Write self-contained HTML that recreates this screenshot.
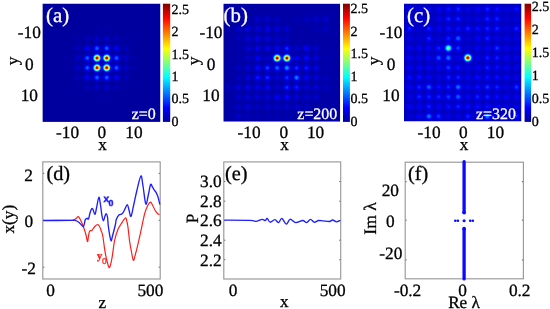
<!DOCTYPE html>
<html><head><meta charset="utf-8"><title>figure</title>
<style>html,body{margin:0;padding:0;background:#fff;overflow:hidden}svg{display:block}text{font-family:"Liberation Serif",serif}</style></head>
<body>
<svg width="550" height="309" viewBox="0 0 550 309" font-family='"Liberation Serif", serif'>
<defs><radialGradient id="gs" cx="0.5" cy="0.5" r="0.5">
<stop offset="0" stop-color="#fff" stop-opacity="1.0000"/>
<stop offset="0.06" stop-color="#fff" stop-opacity="0.9802"/>
<stop offset="0.12" stop-color="#fff" stop-opacity="0.9231"/>
<stop offset="0.19" stop-color="#fff" stop-opacity="0.8353"/>
<stop offset="0.25" stop-color="#fff" stop-opacity="0.7261"/>
<stop offset="0.31" stop-color="#fff" stop-opacity="0.6065"/>
<stop offset="0.38" stop-color="#fff" stop-opacity="0.4868"/>
<stop offset="0.44" stop-color="#fff" stop-opacity="0.3753"/>
<stop offset="0.5" stop-color="#fff" stop-opacity="0.2780"/>
<stop offset="0.56" stop-color="#fff" stop-opacity="0.1979"/>
<stop offset="0.62" stop-color="#fff" stop-opacity="0.1353"/>
<stop offset="0.69" stop-color="#fff" stop-opacity="0.0889"/>
<stop offset="0.75" stop-color="#fff" stop-opacity="0.0561"/>
<stop offset="0.81" stop-color="#fff" stop-opacity="0.0340"/>
<stop offset="0.88" stop-color="#fff" stop-opacity="0.0198"/>
<stop offset="0.94" stop-color="#fff" stop-opacity="0.0111"/>
<stop offset="1" stop-color="#fff" stop-opacity="0.0000"/>
</radialGradient>
<filter id="jet" x="0" y="0" width="1" height="1" color-interpolation-filters="sRGB"><feComponentTransfer><feFuncR type="table" tableValues="0.000 0.000 0.000 0.000 0.000 0.000 0.000 0.000 0.000 0.000 0.000 0.000 0.000 0.000 0.000 0.000 0.000 0.000 0.000 0.000 0.000 0.000 0.000 0.000 0.000 0.062 0.125 0.188 0.250 0.312 0.375 0.438 0.500 0.562 0.625 0.688 0.750 0.812 0.875 0.938 1.000 1.000 1.000 1.000 1.000 1.000 1.000 1.000 1.000 1.000 1.000 1.000 1.000 1.000 1.000 1.000 1.000 0.938 0.875 0.812 0.750 0.688 0.625 0.562 0.500"/><feFuncG type="table" tableValues="0.000 0.000 0.000 0.000 0.000 0.000 0.000 0.000 0.000 0.062 0.125 0.188 0.250 0.312 0.375 0.438 0.500 0.562 0.625 0.688 0.750 0.812 0.875 0.938 1.000 1.000 1.000 1.000 1.000 1.000 1.000 1.000 1.000 1.000 1.000 1.000 1.000 1.000 1.000 1.000 1.000 0.938 0.875 0.812 0.750 0.688 0.625 0.562 0.500 0.438 0.375 0.312 0.250 0.188 0.125 0.062 0.000 0.000 0.000 0.000 0.000 0.000 0.000 0.000 0.000"/><feFuncB type="table" tableValues="0.620 0.667 0.715 0.762 0.810 0.857 0.905 0.953 1.000 1.000 1.000 1.000 1.000 1.000 1.000 1.000 1.000 1.000 1.000 1.000 1.000 1.000 1.000 1.000 1.000 0.938 0.875 0.812 0.750 0.688 0.625 0.562 0.500 0.438 0.375 0.312 0.250 0.188 0.125 0.062 0.000 0.000 0.000 0.000 0.000 0.000 0.000 0.000 0.000 0.000 0.000 0.000 0.000 0.000 0.000 0.000 0.000 0.000 0.000 0.000 0.000 0.000 0.000 0.000 0.000"/></feComponentTransfer></filter>
<linearGradient id="cb" x1="0" y1="0" x2="0" y2="1">
<stop offset="0" stop-color="rgb(128,0,0)"/>
<stop offset="0.12" stop-color="rgb(255,0,0)"/>
<stop offset="0.38" stop-color="rgb(255,255,0)"/>
<stop offset="0.62" stop-color="rgb(0,255,255)"/>
<stop offset="0.88" stop-color="rgb(0,0,255)"/>
<stop offset="1" stop-color="rgb(0,0,158)"/>
</linearGradient></defs>
<rect width="550" height="309" fill="#fff"/>
<clipPath id="clipa"><rect x="42.4" y="3.5" width="118.1" height="118.4"/></clipPath>
<g filter="url(#jet)" clip-path="url(#clipa)">
<rect x="42.4" y="3.5" width="118.1" height="118.4" fill="rgb(0,0,0)"/>
<circle cx="96.98" cy="28.81" r="6.78" fill="url(#gs)" opacity="0.011"/>
<circle cx="106.72" cy="28.81" r="6.78" fill="url(#gs)" opacity="0.011"/>
<circle cx="77.5" cy="38.55" r="6.78" fill="url(#gs)" opacity="0.011"/>
<circle cx="87.24" cy="38.55" r="6.78" fill="url(#gs)" opacity="0.038"/>
<circle cx="96.98" cy="38.55" r="6.78" fill="url(#gs)" opacity="0.065"/>
<circle cx="106.72" cy="38.55" r="6.78" fill="url(#gs)" opacity="0.065"/>
<circle cx="116.46" cy="38.55" r="6.78" fill="url(#gs)" opacity="0.038"/>
<circle cx="126.2" cy="38.55" r="6.78" fill="url(#gs)" opacity="0.011"/>
<circle cx="77.5" cy="48.29" r="6.78" fill="url(#gs)" opacity="0.038"/>
<circle cx="87.24" cy="48.29" r="6.78" fill="url(#gs)" opacity="0.125"/>
<circle cx="96.98" cy="48.29" r="6.78" fill="url(#gs)" opacity="0.236"/>
<circle cx="106.72" cy="48.29" r="6.78" fill="url(#gs)" opacity="0.236"/>
<circle cx="116.46" cy="48.29" r="6.78" fill="url(#gs)" opacity="0.125"/>
<circle cx="126.2" cy="48.29" r="6.78" fill="url(#gs)" opacity="0.038"/>
<circle cx="67.76" cy="58.03" r="6.78" fill="url(#gs)" opacity="0.011"/>
<circle cx="77.5" cy="58.03" r="6.78" fill="url(#gs)" opacity="0.065"/>
<circle cx="87.24" cy="58.03" r="6.78" fill="url(#gs)" opacity="0.236"/>
<circle cx="96.98" cy="58.03" r="6.78" fill="url(#gs)" opacity="0.970"/>
<circle cx="106.72" cy="58.03" r="6.78" fill="url(#gs)" opacity="0.970"/>
<circle cx="116.46" cy="58.03" r="6.78" fill="url(#gs)" opacity="0.236"/>
<circle cx="126.2" cy="58.03" r="6.78" fill="url(#gs)" opacity="0.065"/>
<circle cx="135.94" cy="58.03" r="6.78" fill="url(#gs)" opacity="0.011"/>
<circle cx="67.76" cy="67.77" r="6.78" fill="url(#gs)" opacity="0.011"/>
<circle cx="77.5" cy="67.77" r="6.78" fill="url(#gs)" opacity="0.065"/>
<circle cx="87.24" cy="67.77" r="6.78" fill="url(#gs)" opacity="0.236"/>
<circle cx="96.98" cy="67.77" r="6.78" fill="url(#gs)" opacity="0.970"/>
<circle cx="106.72" cy="67.77" r="6.78" fill="url(#gs)" opacity="0.970"/>
<circle cx="116.46" cy="67.77" r="6.78" fill="url(#gs)" opacity="0.236"/>
<circle cx="126.2" cy="67.77" r="6.78" fill="url(#gs)" opacity="0.065"/>
<circle cx="135.94" cy="67.77" r="6.78" fill="url(#gs)" opacity="0.011"/>
<circle cx="77.5" cy="77.51" r="6.78" fill="url(#gs)" opacity="0.038"/>
<circle cx="87.24" cy="77.51" r="6.78" fill="url(#gs)" opacity="0.125"/>
<circle cx="96.98" cy="77.51" r="6.78" fill="url(#gs)" opacity="0.236"/>
<circle cx="106.72" cy="77.51" r="6.78" fill="url(#gs)" opacity="0.236"/>
<circle cx="116.46" cy="77.51" r="6.78" fill="url(#gs)" opacity="0.125"/>
<circle cx="126.2" cy="77.51" r="6.78" fill="url(#gs)" opacity="0.038"/>
<circle cx="77.5" cy="87.25" r="6.78" fill="url(#gs)" opacity="0.011"/>
<circle cx="87.24" cy="87.25" r="6.78" fill="url(#gs)" opacity="0.038"/>
<circle cx="96.98" cy="87.25" r="6.78" fill="url(#gs)" opacity="0.065"/>
<circle cx="106.72" cy="87.25" r="6.78" fill="url(#gs)" opacity="0.065"/>
<circle cx="116.46" cy="87.25" r="6.78" fill="url(#gs)" opacity="0.038"/>
<circle cx="126.2" cy="87.25" r="6.78" fill="url(#gs)" opacity="0.011"/>
<circle cx="96.98" cy="96.99" r="6.78" fill="url(#gs)" opacity="0.011"/>
<circle cx="106.72" cy="96.99" r="6.78" fill="url(#gs)" opacity="0.011"/>
</g>
<rect x="162.9" y="3.7" width="7.3" height="118.2" fill="url(#cb)"/>
<clipPath id="clipb"><rect x="223.3" y="3.6" width="116.9" height="118.1"/></clipPath>
<g filter="url(#jet)" clip-path="url(#clipb)">
<rect x="223.3" y="3.6" width="116.9" height="118.1" fill="rgb(3,3,3)"/>
<circle cx="247.91" cy="19.17" r="6.78" fill="url(#gs)" opacity="0.019"/>
<circle cx="257.65" cy="19.17" r="6.78" fill="url(#gs)" opacity="0.057"/>
<circle cx="267.39" cy="19.17" r="6.78" fill="url(#gs)" opacity="0.057"/>
<circle cx="277.13" cy="19.17" r="6.78" fill="url(#gs)" opacity="0.038"/>
<circle cx="296.61" cy="19.17" r="6.78" fill="url(#gs)" opacity="0.019"/>
<circle cx="306.35" cy="19.17" r="6.78" fill="url(#gs)" opacity="0.038"/>
<circle cx="316.09" cy="19.17" r="6.78" fill="url(#gs)" opacity="0.057"/>
<circle cx="325.83" cy="19.17" r="6.78" fill="url(#gs)" opacity="0.057"/>
<circle cx="238.17" cy="28.91" r="6.78" fill="url(#gs)" opacity="0.057"/>
<circle cx="247.91" cy="28.91" r="6.78" fill="url(#gs)" opacity="0.095"/>
<circle cx="257.65" cy="28.91" r="6.78" fill="url(#gs)" opacity="0.076"/>
<circle cx="267.39" cy="28.91" r="6.78" fill="url(#gs)" opacity="0.095"/>
<circle cx="277.13" cy="28.91" r="6.78" fill="url(#gs)" opacity="0.076"/>
<circle cx="286.87" cy="28.91" r="6.78" fill="url(#gs)" opacity="0.057"/>
<circle cx="316.09" cy="28.91" r="6.78" fill="url(#gs)" opacity="0.019"/>
<circle cx="325.83" cy="28.91" r="6.78" fill="url(#gs)" opacity="0.038"/>
<circle cx="238.17" cy="38.65" r="6.78" fill="url(#gs)" opacity="0.038"/>
<circle cx="247.91" cy="38.65" r="6.78" fill="url(#gs)" opacity="0.076"/>
<circle cx="257.65" cy="38.65" r="6.78" fill="url(#gs)" opacity="0.095"/>
<circle cx="267.39" cy="38.65" r="6.78" fill="url(#gs)" opacity="0.076"/>
<circle cx="277.13" cy="38.65" r="6.78" fill="url(#gs)" opacity="0.057"/>
<circle cx="286.87" cy="38.65" r="6.78" fill="url(#gs)" opacity="0.038"/>
<circle cx="238.17" cy="48.39" r="6.78" fill="url(#gs)" opacity="0.019"/>
<circle cx="247.91" cy="48.39" r="6.78" fill="url(#gs)" opacity="0.076"/>
<circle cx="257.65" cy="48.39" r="6.78" fill="url(#gs)" opacity="0.095"/>
<circle cx="267.39" cy="48.39" r="6.78" fill="url(#gs)" opacity="0.095"/>
<circle cx="277.13" cy="48.39" r="6.78" fill="url(#gs)" opacity="0.114"/>
<circle cx="286.87" cy="48.39" r="6.78" fill="url(#gs)" opacity="0.171"/>
<circle cx="296.61" cy="48.39" r="6.78" fill="url(#gs)" opacity="0.057"/>
<circle cx="306.35" cy="48.39" r="6.78" fill="url(#gs)" opacity="0.114"/>
<circle cx="316.09" cy="48.39" r="6.78" fill="url(#gs)" opacity="0.057"/>
<circle cx="238.17" cy="58.13" r="6.78" fill="url(#gs)" opacity="0.019"/>
<circle cx="247.91" cy="58.13" r="6.78" fill="url(#gs)" opacity="0.057"/>
<circle cx="257.65" cy="58.13" r="6.78" fill="url(#gs)" opacity="0.114"/>
<circle cx="267.39" cy="58.13" r="6.78" fill="url(#gs)" opacity="0.057"/>
<circle cx="277.13" cy="58.13" r="6.78" fill="url(#gs)" opacity="0.970"/>
<circle cx="286.87" cy="58.13" r="6.78" fill="url(#gs)" opacity="0.970"/>
<circle cx="296.61" cy="58.13" r="6.78" fill="url(#gs)" opacity="0.114"/>
<circle cx="306.35" cy="58.13" r="6.78" fill="url(#gs)" opacity="0.133"/>
<circle cx="316.09" cy="58.13" r="6.78" fill="url(#gs)" opacity="0.076"/>
<circle cx="325.83" cy="58.13" r="6.78" fill="url(#gs)" opacity="0.019"/>
<circle cx="238.17" cy="67.87" r="6.78" fill="url(#gs)" opacity="0.038"/>
<circle cx="247.91" cy="67.87" r="6.78" fill="url(#gs)" opacity="0.076"/>
<circle cx="257.65" cy="67.87" r="6.78" fill="url(#gs)" opacity="0.133"/>
<circle cx="267.39" cy="67.87" r="6.78" fill="url(#gs)" opacity="0.190"/>
<circle cx="277.13" cy="67.87" r="6.78" fill="url(#gs)" opacity="0.228"/>
<circle cx="286.87" cy="67.87" r="6.78" fill="url(#gs)" opacity="0.281"/>
<circle cx="296.61" cy="67.87" r="6.78" fill="url(#gs)" opacity="0.171"/>
<circle cx="306.35" cy="67.87" r="6.78" fill="url(#gs)" opacity="0.152"/>
<circle cx="316.09" cy="67.87" r="6.78" fill="url(#gs)" opacity="0.095"/>
<circle cx="325.83" cy="67.87" r="6.78" fill="url(#gs)" opacity="0.019"/>
<circle cx="238.17" cy="77.61" r="6.78" fill="url(#gs)" opacity="0.038"/>
<circle cx="247.91" cy="77.61" r="6.78" fill="url(#gs)" opacity="0.076"/>
<circle cx="257.65" cy="77.61" r="6.78" fill="url(#gs)" opacity="0.152"/>
<circle cx="267.39" cy="77.61" r="6.78" fill="url(#gs)" opacity="0.171"/>
<circle cx="277.13" cy="77.61" r="6.78" fill="url(#gs)" opacity="0.076"/>
<circle cx="286.87" cy="77.61" r="6.78" fill="url(#gs)" opacity="0.171"/>
<circle cx="296.61" cy="77.61" r="6.78" fill="url(#gs)" opacity="0.259"/>
<circle cx="306.35" cy="77.61" r="6.78" fill="url(#gs)" opacity="0.114"/>
<circle cx="316.09" cy="77.61" r="6.78" fill="url(#gs)" opacity="0.076"/>
<circle cx="325.83" cy="77.61" r="6.78" fill="url(#gs)" opacity="0.038"/>
<circle cx="228.43" cy="87.35" r="6.78" fill="url(#gs)" opacity="0.038"/>
<circle cx="238.17" cy="87.35" r="6.78" fill="url(#gs)" opacity="0.076"/>
<circle cx="247.91" cy="87.35" r="6.78" fill="url(#gs)" opacity="0.095"/>
<circle cx="257.65" cy="87.35" r="6.78" fill="url(#gs)" opacity="0.095"/>
<circle cx="267.39" cy="87.35" r="6.78" fill="url(#gs)" opacity="0.114"/>
<circle cx="277.13" cy="87.35" r="6.78" fill="url(#gs)" opacity="0.057"/>
<circle cx="286.87" cy="87.35" r="6.78" fill="url(#gs)" opacity="0.171"/>
<circle cx="296.61" cy="87.35" r="6.78" fill="url(#gs)" opacity="0.152"/>
<circle cx="306.35" cy="87.35" r="6.78" fill="url(#gs)" opacity="0.076"/>
<circle cx="316.09" cy="87.35" r="6.78" fill="url(#gs)" opacity="0.076"/>
<circle cx="325.83" cy="87.35" r="6.78" fill="url(#gs)" opacity="0.038"/>
<circle cx="238.17" cy="97.09" r="6.78" fill="url(#gs)" opacity="0.057"/>
<circle cx="247.91" cy="97.09" r="6.78" fill="url(#gs)" opacity="0.076"/>
<circle cx="257.65" cy="97.09" r="6.78" fill="url(#gs)" opacity="0.076"/>
<circle cx="267.39" cy="97.09" r="6.78" fill="url(#gs)" opacity="0.076"/>
<circle cx="277.13" cy="97.09" r="6.78" fill="url(#gs)" opacity="0.114"/>
<circle cx="286.87" cy="97.09" r="6.78" fill="url(#gs)" opacity="0.133"/>
<circle cx="296.61" cy="97.09" r="6.78" fill="url(#gs)" opacity="0.076"/>
<circle cx="306.35" cy="97.09" r="6.78" fill="url(#gs)" opacity="0.057"/>
<circle cx="316.09" cy="97.09" r="6.78" fill="url(#gs)" opacity="0.057"/>
<circle cx="238.17" cy="106.83" r="6.78" fill="url(#gs)" opacity="0.057"/>
<circle cx="247.91" cy="106.83" r="6.78" fill="url(#gs)" opacity="0.076"/>
<circle cx="257.65" cy="106.83" r="6.78" fill="url(#gs)" opacity="0.038"/>
<circle cx="267.39" cy="106.83" r="6.78" fill="url(#gs)" opacity="0.057"/>
<circle cx="277.13" cy="106.83" r="6.78" fill="url(#gs)" opacity="0.057"/>
<circle cx="286.87" cy="106.83" r="6.78" fill="url(#gs)" opacity="0.057"/>
<circle cx="296.61" cy="106.83" r="6.78" fill="url(#gs)" opacity="0.057"/>
<circle cx="306.35" cy="106.83" r="6.78" fill="url(#gs)" opacity="0.038"/>
<circle cx="238.17" cy="116.57" r="6.78" fill="url(#gs)" opacity="0.057"/>
<circle cx="247.91" cy="116.57" r="6.78" fill="url(#gs)" opacity="0.038"/>
<circle cx="257.65" cy="116.57" r="6.78" fill="url(#gs)" opacity="0.019"/>
<circle cx="267.39" cy="116.57" r="6.78" fill="url(#gs)" opacity="0.019"/>
<circle cx="277.13" cy="116.57" r="6.78" fill="url(#gs)" opacity="0.019"/>
<circle cx="286.87" cy="116.57" r="6.78" fill="url(#gs)" opacity="0.019"/>
</g>
<rect x="343" y="3.7" width="6.9" height="118.2" fill="url(#cb)"/>
<clipPath id="clipc"><rect x="404" y="3.5" width="117.5" height="118"/></clipPath>
<g filter="url(#jet)" clip-path="url(#clipc)">
<rect x="404" y="3.5" width="117.5" height="118" fill="rgb(11,11,11)"/>
<circle cx="409.38" cy="9.13" r="6.78" fill="url(#gs)" opacity="0.087"/>
<circle cx="419.12" cy="9.13" r="6.78" fill="url(#gs)" opacity="0.044"/>
<circle cx="428.86" cy="9.13" r="6.78" fill="url(#gs)" opacity="0.066"/>
<circle cx="438.6" cy="9.13" r="6.78" fill="url(#gs)" opacity="0.087"/>
<circle cx="448.34" cy="9.13" r="6.78" fill="url(#gs)" opacity="0.109"/>
<circle cx="458.08" cy="9.13" r="6.78" fill="url(#gs)" opacity="0.131"/>
<circle cx="467.82" cy="9.13" r="6.78" fill="url(#gs)" opacity="0.066"/>
<circle cx="477.56" cy="9.13" r="6.78" fill="url(#gs)" opacity="0.087"/>
<circle cx="487.3" cy="9.13" r="6.78" fill="url(#gs)" opacity="0.131"/>
<circle cx="497.04" cy="9.13" r="6.78" fill="url(#gs)" opacity="0.109"/>
<circle cx="506.78" cy="9.13" r="6.78" fill="url(#gs)" opacity="0.066"/>
<circle cx="516.52" cy="9.13" r="6.78" fill="url(#gs)" opacity="0.109"/>
<circle cx="409.38" cy="18.87" r="6.78" fill="url(#gs)" opacity="0.066"/>
<circle cx="419.12" cy="18.87" r="6.78" fill="url(#gs)" opacity="0.044"/>
<circle cx="428.86" cy="18.87" r="6.78" fill="url(#gs)" opacity="0.044"/>
<circle cx="438.6" cy="18.87" r="6.78" fill="url(#gs)" opacity="0.066"/>
<circle cx="448.34" cy="18.87" r="6.78" fill="url(#gs)" opacity="0.131"/>
<circle cx="458.08" cy="18.87" r="6.78" fill="url(#gs)" opacity="0.131"/>
<circle cx="467.82" cy="18.87" r="6.78" fill="url(#gs)" opacity="0.044"/>
<circle cx="477.56" cy="18.87" r="6.78" fill="url(#gs)" opacity="0.066"/>
<circle cx="487.3" cy="18.87" r="6.78" fill="url(#gs)" opacity="0.131"/>
<circle cx="497.04" cy="18.87" r="6.78" fill="url(#gs)" opacity="0.131"/>
<circle cx="506.78" cy="18.87" r="6.78" fill="url(#gs)" opacity="0.044"/>
<circle cx="516.52" cy="18.87" r="6.78" fill="url(#gs)" opacity="0.044"/>
<circle cx="409.38" cy="28.61" r="6.78" fill="url(#gs)" opacity="0.131"/>
<circle cx="419.12" cy="28.61" r="6.78" fill="url(#gs)" opacity="0.044"/>
<circle cx="428.86" cy="28.61" r="6.78" fill="url(#gs)" opacity="0.131"/>
<circle cx="438.6" cy="28.61" r="6.78" fill="url(#gs)" opacity="0.087"/>
<circle cx="448.34" cy="28.61" r="6.78" fill="url(#gs)" opacity="0.109"/>
<circle cx="458.08" cy="28.61" r="6.78" fill="url(#gs)" opacity="0.109"/>
<circle cx="467.82" cy="28.61" r="6.78" fill="url(#gs)" opacity="0.131"/>
<circle cx="477.56" cy="28.61" r="6.78" fill="url(#gs)" opacity="0.109"/>
<circle cx="487.3" cy="28.61" r="6.78" fill="url(#gs)" opacity="0.131"/>
<circle cx="497.04" cy="28.61" r="6.78" fill="url(#gs)" opacity="0.131"/>
<circle cx="506.78" cy="28.61" r="6.78" fill="url(#gs)" opacity="0.066"/>
<circle cx="516.52" cy="28.61" r="6.78" fill="url(#gs)" opacity="0.131"/>
<circle cx="409.38" cy="38.35" r="6.78" fill="url(#gs)" opacity="0.066"/>
<circle cx="419.12" cy="38.35" r="6.78" fill="url(#gs)" opacity="0.044"/>
<circle cx="428.86" cy="38.35" r="6.78" fill="url(#gs)" opacity="0.131"/>
<circle cx="438.6" cy="38.35" r="6.78" fill="url(#gs)" opacity="0.044"/>
<circle cx="448.34" cy="38.35" r="6.78" fill="url(#gs)" opacity="0.131"/>
<circle cx="458.08" cy="38.35" r="6.78" fill="url(#gs)" opacity="0.197"/>
<circle cx="467.82" cy="38.35" r="6.78" fill="url(#gs)" opacity="0.044"/>
<circle cx="477.56" cy="38.35" r="6.78" fill="url(#gs)" opacity="0.087"/>
<circle cx="487.3" cy="38.35" r="6.78" fill="url(#gs)" opacity="0.131"/>
<circle cx="497.04" cy="38.35" r="6.78" fill="url(#gs)" opacity="0.066"/>
<circle cx="506.78" cy="38.35" r="6.78" fill="url(#gs)" opacity="0.066"/>
<circle cx="516.52" cy="38.35" r="6.78" fill="url(#gs)" opacity="0.066"/>
<circle cx="409.38" cy="48.09" r="6.78" fill="url(#gs)" opacity="0.087"/>
<circle cx="419.12" cy="48.09" r="6.78" fill="url(#gs)" opacity="0.087"/>
<circle cx="428.86" cy="48.09" r="6.78" fill="url(#gs)" opacity="0.087"/>
<circle cx="438.6" cy="48.09" r="6.78" fill="url(#gs)" opacity="0.131"/>
<circle cx="448.34" cy="48.09" r="6.78" fill="url(#gs)" opacity="0.487"/>
<circle cx="458.08" cy="48.09" r="6.78" fill="url(#gs)" opacity="0.153"/>
<circle cx="467.82" cy="48.09" r="6.78" fill="url(#gs)" opacity="0.044"/>
<circle cx="477.56" cy="48.09" r="6.78" fill="url(#gs)" opacity="0.087"/>
<circle cx="487.3" cy="48.09" r="6.78" fill="url(#gs)" opacity="0.087"/>
<circle cx="497.04" cy="48.09" r="6.78" fill="url(#gs)" opacity="0.153"/>
<circle cx="506.78" cy="48.09" r="6.78" fill="url(#gs)" opacity="0.087"/>
<circle cx="516.52" cy="48.09" r="6.78" fill="url(#gs)" opacity="0.066"/>
<circle cx="409.38" cy="57.83" r="6.78" fill="url(#gs)" opacity="0.087"/>
<circle cx="419.12" cy="57.83" r="6.78" fill="url(#gs)" opacity="0.066"/>
<circle cx="428.86" cy="57.83" r="6.78" fill="url(#gs)" opacity="0.087"/>
<circle cx="438.6" cy="57.83" r="6.78" fill="url(#gs)" opacity="0.184"/>
<circle cx="448.34" cy="57.83" r="6.78" fill="url(#gs)" opacity="0.219"/>
<circle cx="458.08" cy="57.83" r="6.78" fill="url(#gs)" opacity="0.066"/>
<circle cx="467.82" cy="57.83" r="6.78" fill="url(#gs)" opacity="0.970"/>
<circle cx="477.56" cy="57.83" r="6.78" fill="url(#gs)" opacity="0.066"/>
<circle cx="487.3" cy="57.83" r="6.78" fill="url(#gs)" opacity="0.131"/>
<circle cx="497.04" cy="57.83" r="6.78" fill="url(#gs)" opacity="0.131"/>
<circle cx="506.78" cy="57.83" r="6.78" fill="url(#gs)" opacity="0.087"/>
<circle cx="516.52" cy="57.83" r="6.78" fill="url(#gs)" opacity="0.066"/>
<circle cx="409.38" cy="67.57" r="6.78" fill="url(#gs)" opacity="0.087"/>
<circle cx="419.12" cy="67.57" r="6.78" fill="url(#gs)" opacity="0.087"/>
<circle cx="428.86" cy="67.57" r="6.78" fill="url(#gs)" opacity="0.087"/>
<circle cx="438.6" cy="67.57" r="6.78" fill="url(#gs)" opacity="0.087"/>
<circle cx="448.34" cy="67.57" r="6.78" fill="url(#gs)" opacity="0.157"/>
<circle cx="458.08" cy="67.57" r="6.78" fill="url(#gs)" opacity="0.109"/>
<circle cx="467.82" cy="67.57" r="6.78" fill="url(#gs)" opacity="0.066"/>
<circle cx="477.56" cy="67.57" r="6.78" fill="url(#gs)" opacity="0.087"/>
<circle cx="487.3" cy="67.57" r="6.78" fill="url(#gs)" opacity="0.131"/>
<circle cx="497.04" cy="67.57" r="6.78" fill="url(#gs)" opacity="0.109"/>
<circle cx="506.78" cy="67.57" r="6.78" fill="url(#gs)" opacity="0.087"/>
<circle cx="516.52" cy="67.57" r="6.78" fill="url(#gs)" opacity="0.066"/>
<circle cx="409.38" cy="77.31" r="6.78" fill="url(#gs)" opacity="0.109"/>
<circle cx="419.12" cy="77.31" r="6.78" fill="url(#gs)" opacity="0.109"/>
<circle cx="428.86" cy="77.31" r="6.78" fill="url(#gs)" opacity="0.087"/>
<circle cx="438.6" cy="77.31" r="6.78" fill="url(#gs)" opacity="0.066"/>
<circle cx="448.34" cy="77.31" r="6.78" fill="url(#gs)" opacity="0.131"/>
<circle cx="458.08" cy="77.31" r="6.78" fill="url(#gs)" opacity="0.131"/>
<circle cx="467.82" cy="77.31" r="6.78" fill="url(#gs)" opacity="0.087"/>
<circle cx="477.56" cy="77.31" r="6.78" fill="url(#gs)" opacity="0.109"/>
<circle cx="487.3" cy="77.31" r="6.78" fill="url(#gs)" opacity="0.109"/>
<circle cx="497.04" cy="77.31" r="6.78" fill="url(#gs)" opacity="0.109"/>
<circle cx="506.78" cy="77.31" r="6.78" fill="url(#gs)" opacity="0.087"/>
<circle cx="516.52" cy="77.31" r="6.78" fill="url(#gs)" opacity="0.066"/>
<circle cx="409.38" cy="87.05" r="6.78" fill="url(#gs)" opacity="0.087"/>
<circle cx="419.12" cy="87.05" r="6.78" fill="url(#gs)" opacity="0.131"/>
<circle cx="428.86" cy="87.05" r="6.78" fill="url(#gs)" opacity="0.197"/>
<circle cx="438.6" cy="87.05" r="6.78" fill="url(#gs)" opacity="0.109"/>
<circle cx="448.34" cy="87.05" r="6.78" fill="url(#gs)" opacity="0.131"/>
<circle cx="458.08" cy="87.05" r="6.78" fill="url(#gs)" opacity="0.219"/>
<circle cx="467.82" cy="87.05" r="6.78" fill="url(#gs)" opacity="0.087"/>
<circle cx="477.56" cy="87.05" r="6.78" fill="url(#gs)" opacity="0.109"/>
<circle cx="487.3" cy="87.05" r="6.78" fill="url(#gs)" opacity="0.153"/>
<circle cx="497.04" cy="87.05" r="6.78" fill="url(#gs)" opacity="0.131"/>
<circle cx="506.78" cy="87.05" r="6.78" fill="url(#gs)" opacity="0.066"/>
<circle cx="516.52" cy="87.05" r="6.78" fill="url(#gs)" opacity="0.153"/>
<circle cx="409.38" cy="96.79" r="6.78" fill="url(#gs)" opacity="0.066"/>
<circle cx="419.12" cy="96.79" r="6.78" fill="url(#gs)" opacity="0.131"/>
<circle cx="428.86" cy="96.79" r="6.78" fill="url(#gs)" opacity="0.131"/>
<circle cx="438.6" cy="96.79" r="6.78" fill="url(#gs)" opacity="0.131"/>
<circle cx="448.34" cy="96.79" r="6.78" fill="url(#gs)" opacity="0.153"/>
<circle cx="458.08" cy="96.79" r="6.78" fill="url(#gs)" opacity="0.197"/>
<circle cx="467.82" cy="96.79" r="6.78" fill="url(#gs)" opacity="0.087"/>
<circle cx="477.56" cy="96.79" r="6.78" fill="url(#gs)" opacity="0.131"/>
<circle cx="487.3" cy="96.79" r="6.78" fill="url(#gs)" opacity="0.131"/>
<circle cx="497.04" cy="96.79" r="6.78" fill="url(#gs)" opacity="0.109"/>
<circle cx="506.78" cy="96.79" r="6.78" fill="url(#gs)" opacity="0.087"/>
<circle cx="516.52" cy="96.79" r="6.78" fill="url(#gs)" opacity="0.087"/>
<circle cx="409.38" cy="106.53" r="6.78" fill="url(#gs)" opacity="0.087"/>
<circle cx="419.12" cy="106.53" r="6.78" fill="url(#gs)" opacity="0.087"/>
<circle cx="428.86" cy="106.53" r="6.78" fill="url(#gs)" opacity="0.131"/>
<circle cx="438.6" cy="106.53" r="6.78" fill="url(#gs)" opacity="0.087"/>
<circle cx="448.34" cy="106.53" r="6.78" fill="url(#gs)" opacity="0.109"/>
<circle cx="458.08" cy="106.53" r="6.78" fill="url(#gs)" opacity="0.131"/>
<circle cx="467.82" cy="106.53" r="6.78" fill="url(#gs)" opacity="0.109"/>
<circle cx="477.56" cy="106.53" r="6.78" fill="url(#gs)" opacity="0.109"/>
<circle cx="487.3" cy="106.53" r="6.78" fill="url(#gs)" opacity="0.109"/>
<circle cx="497.04" cy="106.53" r="6.78" fill="url(#gs)" opacity="0.087"/>
<circle cx="506.78" cy="106.53" r="6.78" fill="url(#gs)" opacity="0.066"/>
<circle cx="516.52" cy="106.53" r="6.78" fill="url(#gs)" opacity="0.066"/>
<circle cx="409.38" cy="116.27" r="6.78" fill="url(#gs)" opacity="0.044"/>
<circle cx="419.12" cy="116.27" r="6.78" fill="url(#gs)" opacity="0.087"/>
<circle cx="428.86" cy="116.27" r="6.78" fill="url(#gs)" opacity="0.219"/>
<circle cx="438.6" cy="116.27" r="6.78" fill="url(#gs)" opacity="0.153"/>
<circle cx="448.34" cy="116.27" r="6.78" fill="url(#gs)" opacity="0.066"/>
<circle cx="458.08" cy="116.27" r="6.78" fill="url(#gs)" opacity="0.066"/>
<circle cx="467.82" cy="116.27" r="6.78" fill="url(#gs)" opacity="0.131"/>
<circle cx="477.56" cy="116.27" r="6.78" fill="url(#gs)" opacity="0.087"/>
<circle cx="487.3" cy="116.27" r="6.78" fill="url(#gs)" opacity="0.240"/>
<circle cx="497.04" cy="116.27" r="6.78" fill="url(#gs)" opacity="0.087"/>
<circle cx="506.78" cy="116.27" r="6.78" fill="url(#gs)" opacity="0.044"/>
<circle cx="516.52" cy="116.27" r="6.78" fill="url(#gs)" opacity="0.131"/>
</g>
<rect x="524.6" y="3.7" width="6.5" height="118.2" fill="url(#cb)"/>
<g text-rendering="geometricPrecision" opacity="0.999" stroke-width="0.3">
<text x="29.3" y="38.2" font-size="17.3" text-anchor="middle" fill="#000" stroke="#000">-10</text>
<text x="29.3" y="69.5" font-size="17.3" text-anchor="middle" fill="#000" stroke="#000">0</text>
<text x="29.3" y="101.2" font-size="17.3" text-anchor="middle" fill="#000" stroke="#000">10</text>
<text transform="translate(17.6 61) rotate(-90)" font-size="17.2" text-anchor="middle" fill="#000" stroke="#000">y</text>
<text x="67.6" y="137.9" font-size="17.3" text-anchor="middle" fill="#000" stroke="#000">-10</text>
<text x="101.7" y="137.9" font-size="17.3" text-anchor="middle" fill="#000" stroke="#000">0</text>
<text x="133.9" y="137.9" font-size="17.3" text-anchor="middle" fill="#000" stroke="#000">10</text>
<text x="102.6" y="149.8" font-size="17.2" text-anchor="middle" fill="#000" stroke="#000">x</text>
<text x="171.5" y="13.65" font-size="14" text-anchor="start" fill="#000" stroke="#000">2.5</text>
<text x="171.5" y="36.1" font-size="14" text-anchor="start" fill="#000" stroke="#000">2</text>
<text x="171.5" y="58.55" font-size="14" text-anchor="start" fill="#000" stroke="#000">1.5</text>
<text x="171.5" y="81" font-size="14" text-anchor="start" fill="#000" stroke="#000">1</text>
<text x="171.5" y="103.45" font-size="14" text-anchor="start" fill="#000" stroke="#000">0.5</text>
<text x="171.5" y="125.9" font-size="14" text-anchor="start" fill="#000" stroke="#000">0</text>
<text x="211" y="38.2" font-size="17.3" text-anchor="middle" fill="#000" stroke="#000">-10</text>
<text x="211" y="69.5" font-size="17.3" text-anchor="middle" fill="#000" stroke="#000">0</text>
<text x="211" y="101.2" font-size="17.3" text-anchor="middle" fill="#000" stroke="#000">10</text>
<text transform="translate(199.3 61) rotate(-90)" font-size="17.2" text-anchor="middle" fill="#000" stroke="#000">y</text>
<text x="249.1" y="137.9" font-size="17.3" text-anchor="middle" fill="#000" stroke="#000">-10</text>
<text x="283.8" y="137.9" font-size="17.3" text-anchor="middle" fill="#000" stroke="#000">0</text>
<text x="315.6" y="137.9" font-size="17.3" text-anchor="middle" fill="#000" stroke="#000">10</text>
<text x="284.6" y="149.8" font-size="17.2" text-anchor="middle" fill="#000" stroke="#000">x</text>
<text x="350.5" y="12.9" font-size="14" text-anchor="start" fill="#000" stroke="#000">2.5</text>
<text x="350.5" y="35.53" font-size="14" text-anchor="start" fill="#000" stroke="#000">2</text>
<text x="350.5" y="58.16" font-size="14" text-anchor="start" fill="#000" stroke="#000">1.5</text>
<text x="350.5" y="80.79" font-size="14" text-anchor="start" fill="#000" stroke="#000">1</text>
<text x="350.5" y="103.42" font-size="14" text-anchor="start" fill="#000" stroke="#000">0.5</text>
<text x="350.5" y="126.05" font-size="14" text-anchor="start" fill="#000" stroke="#000">0</text>
<text x="391" y="38.2" font-size="17.3" text-anchor="middle" fill="#000" stroke="#000">-10</text>
<text x="391" y="69.5" font-size="17.3" text-anchor="middle" fill="#000" stroke="#000">0</text>
<text x="391" y="101.2" font-size="17.3" text-anchor="middle" fill="#000" stroke="#000">10</text>
<text transform="translate(379.3 61) rotate(-90)" font-size="17.2" text-anchor="middle" fill="#000" stroke="#000">y</text>
<text x="429.1" y="137.9" font-size="17.3" text-anchor="middle" fill="#000" stroke="#000">-10</text>
<text x="463.2" y="137.9" font-size="17.3" text-anchor="middle" fill="#000" stroke="#000">0</text>
<text x="495.4" y="137.9" font-size="17.3" text-anchor="middle" fill="#000" stroke="#000">10</text>
<text x="464.1" y="149.8" font-size="17.2" text-anchor="middle" fill="#000" stroke="#000">x</text>
<text x="531.7" y="11.35" font-size="14" text-anchor="start" fill="#000" stroke="#000">2.5</text>
<text x="531.7" y="34.35" font-size="14" text-anchor="start" fill="#000" stroke="#000">2</text>
<text x="531.7" y="57.35" font-size="14" text-anchor="start" fill="#000" stroke="#000">1.5</text>
<text x="531.7" y="80.35" font-size="14" text-anchor="start" fill="#000" stroke="#000">1</text>
<text x="531.7" y="103.35" font-size="14" text-anchor="start" fill="#000" stroke="#000">0.5</text>
<text x="531.7" y="126.35" font-size="14" text-anchor="start" fill="#000" stroke="#000">0</text>
<text x="46" y="22.3" font-size="20.8" text-anchor="start" fill="#fff" stroke="#fff">(a)</text>
<text x="223.6" y="21.8" font-size="20.8" text-anchor="start" fill="#fff" stroke="#fff">(b)</text>
<text x="407" y="21.7" font-size="20.8" text-anchor="start" fill="#fff" stroke="#fff">(c)</text>
<text x="155.6" y="119" font-size="15.9" text-anchor="end" fill="#fff" stroke="#fff">z=0</text>
<text x="337.2" y="118.9" font-size="15.9" text-anchor="end" fill="#fff" stroke="#fff">z=200</text>
<text x="515.9" y="119" font-size="15.9" text-anchor="end" fill="#fff" stroke="#fff">z=320</text>
<rect x="42.8" y="161.9" width="117.4" height="117.1" fill="#fff" stroke="#989898" stroke-width="1.15"/>
<path d="M43.1 173.4h1.2M159.9 173.4h-1.2M43.1 220.3h1.2M159.9 220.3h-1.2M43.1 267.2h1.2M159.9 267.2h-1.2" stroke="#555" stroke-width="0.9" fill="none"/>
<path d="M43.2 220.5C47.33 220.47 63.03 220.35 68 220.3C72.97 220.25 71.67 220.5 73 220.2C74.33 219.9 75.13 219.08 76 218.5C76.87 217.92 77.53 216.62 78.2 216.7C78.87 216.78 79.25 217.65 80 219C80.75 220.35 81.95 222.97 82.7 224.8C83.45 226.63 83.97 228.38 84.5 230C85.03 231.62 85.4 232.57 85.9 234.5C86.4 236.43 87.07 241.35 87.5 241.6C87.93 241.85 88.15 237.72 88.5 236C88.85 234.28 89.02 232.27 89.6 231.3C90.18 230.33 91.1 231.03 92 230.2C92.9 229.37 94.03 227.22 95 226.3C95.97 225.38 97.05 224.67 97.8 224.7C98.55 224.73 98.97 225.58 99.5 226.5C100.03 227.42 100.45 228.62 101 230.2C101.55 231.78 102.15 232.55 102.8 236C103.45 239.45 104.2 246.73 104.9 250.9C105.6 255.07 106.23 258.22 107 261C107.77 263.78 108.67 268.1 109.5 267.6C110.33 267.1 111.15 262.52 112 258C112.85 253.48 113.62 245.25 114.6 240.5C115.58 235.75 116.82 232.25 117.9 229.5C118.98 226.75 119.85 225.92 121.1 224C122.35 222.08 124.42 218.33 125.4 218C126.38 217.67 126.57 220.45 127 222C127.43 223.55 127.58 224.22 128 227.3C128.42 230.38 128.92 236.38 129.5 240.5C130.08 244.62 130.85 248.7 131.5 252C132.15 255.3 132.73 259.97 133.4 260.3C134.07 260.63 134.75 256.65 135.5 254C136.25 251.35 137.07 247.93 137.9 244.4C138.73 240.87 139.35 238.02 140.5 232.8C141.65 227.58 143.55 217.73 144.8 213.1C146.05 208.47 147.03 206.83 148 205C148.97 203.17 149.77 201.93 150.6 202.1C151.43 202.27 152.23 204.6 153 206C153.77 207.4 154.45 209.25 155.2 210.5C155.95 211.75 156.78 212.8 157.5 213.5C158.22 214.2 159.17 214.5 159.5 214.7" fill="none" stroke="#ff1c1c" stroke-width="1.2" stroke-linejoin="round"/>
<path d="M43.2 220.5C47.67 220.48 64.7 220.43 70 220.4C75.3 220.37 73.53 220 75 220.3C76.47 220.6 77.72 221.42 78.8 222.2C79.88 222.98 80.75 224.25 81.5 225C82.25 225.75 82.83 226.87 83.3 226.7C83.77 226.53 83.97 225.18 84.3 224C84.63 222.82 84.82 220.55 85.3 219.6C85.78 218.65 86.67 218.42 87.2 218.3C87.73 218.18 88.03 219.78 88.5 218.9C88.97 218.02 89.47 214.72 90 213C90.53 211.28 91.2 209.18 91.7 208.6C92.2 208.02 92.45 208.53 93 209.5C93.55 210.47 94.42 214.65 95 214.4C95.58 214.15 95.85 210.85 96.5 208C97.15 205.15 98.23 197.8 98.9 197.3C99.57 196.8 99.98 201.88 100.5 205C101.02 208.12 101.52 213.35 102 216C102.48 218.65 102.9 220.9 103.4 220.9C103.9 220.9 104.52 217.18 105 216C105.48 214.82 105.88 213.63 106.3 213.8C106.72 213.97 107.18 215.13 107.5 217C107.82 218.87 107.87 222.17 108.2 225C108.53 227.83 109.02 231.37 109.5 234C109.98 236.63 110.6 240.47 111.1 240.8C111.6 241.13 111.8 238.63 112.5 236C113.2 233.37 114.67 227.73 115.3 225C115.93 222.27 115.7 221.27 116.3 219.6C116.9 217.93 117.92 215.97 118.9 215C119.88 214.03 121.27 214.63 122.2 213.8C123.13 212.97 123.65 211.53 124.5 210C125.35 208.47 126.55 204.6 127.3 204.6C128.05 204.6 128.38 208.05 129 210C129.62 211.95 130.2 217.22 131 216.3C131.8 215.38 132.8 208.88 133.8 204.5C134.8 200.12 135.82 194.75 137 190C138.18 185.25 139.9 176.67 140.9 176C141.9 175.33 142.18 181.33 143 186C143.82 190.67 144.92 202.5 145.8 204C146.68 205.5 147.5 198.27 148.3 195C149.1 191.73 149.9 185.7 150.6 184.4C151.3 183.1 151.85 186.2 152.5 187.2C153.15 188.2 153.92 189.55 154.5 190.4C155.08 191.25 155.5 191.43 156 192.3C156.5 193.17 157.03 194.35 157.5 195.6C157.97 196.85 158.42 198.32 158.8 199.8C159.18 201.28 159.63 203.72 159.8 204.5" fill="none" stroke="#1e1eff" stroke-width="1.35" stroke-linejoin="round"/>
<text x="28.6" y="180.5" font-size="17.3" text-anchor="middle" fill="#000" stroke="#000">2</text>
<text x="28.8" y="227.3" font-size="17.3" text-anchor="middle" fill="#000" stroke="#000">0</text>
<text x="28.6" y="273.8" font-size="17.3" text-anchor="middle" fill="#000" stroke="#000">-2</text>
<text transform="translate(13.8 219.2) rotate(-90)" font-size="17.2" text-anchor="middle" fill="#000" stroke="#000">x(y)</text>
<text x="50.6" y="295.9" font-size="17.3" text-anchor="middle" fill="#000" stroke="#000">0</text>
<text x="150.4" y="295.9" font-size="17.3" text-anchor="middle" fill="#000" stroke="#000">500</text>
<text x="102.4" y="307.5" font-size="17.2" text-anchor="middle" fill="#000" stroke="#000">z</text>
<text x="46.4" y="179.6" font-size="20.3" text-anchor="start" fill="#000" stroke="#000">(d)</text>
<text x="103.4" y="201.5" style="font-family:'Liberation Sans',sans-serif;font-weight:bold" font-size="10" fill="#1a1aff" stroke="#1a1aff" stroke-width="0.45">x</text>
<text x="108.4" y="206.3" style="font-family:'Liberation Sans',sans-serif;font-weight:bold" font-size="8.8" fill="#1a1aff" stroke="#1a1aff" stroke-width="0.4">0</text>
<text x="97.0" y="259.2" font-weight="bold" font-size="10.4" fill="#ff1c1c" stroke="#ff1c1c" stroke-width="0.35">y</text>
<text x="102.0" y="263.6" style="font-family:'Liberation Sans',sans-serif" font-size="8.4" fill="#ff1c1c" stroke="#ff1c1c" stroke-width="0.3">0</text>
<rect x="223.8" y="161.9" width="116.9" height="117.1" fill="#fff" stroke="#989898" stroke-width="1.15"/>
<path d="M224.1 181.5h1.2M340.4 181.5h-1.2M224.1 201.2h1.2M340.4 201.2h-1.2M224.1 220.6h1.2M340.4 220.6h-1.2M224.1 240.2h1.2M340.4 240.2h-1.2M224.1 259.7h1.2M340.4 259.7h-1.2" stroke="#555" stroke-width="0.9" fill="none"/>
<path d="M224.4 220.1C228.67 220.15 244.67 220.2 250 220.4C255.33 220.6 254.38 221.47 256.4 221.3C258.42 221.13 260.62 219.53 262.1 219.4C263.58 219.27 264.45 220.67 265.3 220.5C266.15 220.33 266.4 218.12 267.2 218.4C268 218.68 268.83 222 270.1 222.2C271.37 222.4 273.38 219.53 274.8 219.6C276.22 219.67 277.43 222.8 278.6 222.6C279.77 222.4 280.52 218.15 281.8 218.4C283.08 218.65 284.92 223.95 286.3 224.1C287.68 224.25 288.52 219.55 290.1 219.3C291.68 219.05 293.68 222.4 295.8 222.6C297.92 222.8 301 220.5 302.8 220.5C304.6 220.5 305.32 222.78 306.6 222.6C307.88 222.42 309.22 219.47 310.5 219.4C311.78 219.33 312.95 222.02 314.3 222.2C315.65 222.38 317.13 220.72 318.6 220.5C320.07 220.28 321.28 220.73 323.1 220.9C324.92 221.07 327.92 221.65 329.5 221.5C331.08 221.35 331.43 219.95 332.6 220C333.77 220.05 335.22 221.75 336.5 221.8C337.78 221.85 339.67 220.55 340.3 220.3" fill="none" stroke="#1e1eff" stroke-width="1.35" stroke-linejoin="round"/>
<text x="210.8" y="187" font-size="17.3" text-anchor="middle" fill="#000" stroke="#000">3.0</text>
<text x="210.8" y="207" font-size="17.3" text-anchor="middle" fill="#000" stroke="#000">2.8</text>
<text x="210.8" y="226" font-size="17.3" text-anchor="middle" fill="#000" stroke="#000">2.6</text>
<text x="210.8" y="246" font-size="17.3" text-anchor="middle" fill="#000" stroke="#000">2.4</text>
<text x="210.8" y="266" font-size="17.3" text-anchor="middle" fill="#000" stroke="#000">2.2</text>
<text transform="translate(197.7 218.4) rotate(-90)" font-size="17.2" text-anchor="middle" fill="#000" stroke="#000">P</text>
<text x="233" y="295.9" font-size="17.3" text-anchor="middle" fill="#000" stroke="#000">0</text>
<text x="332.6" y="295.9" font-size="17.3" text-anchor="middle" fill="#000" stroke="#000">500</text>
<text x="284.2" y="307.4" font-size="17.2" text-anchor="middle" fill="#000" stroke="#000">x</text>
<text x="225" y="179.6" font-size="20.3" text-anchor="start" fill="#000" stroke="#000">(e)</text>
<rect x="405.2" y="162.2" width="118.2" height="116.6" fill="#fff" stroke="#989898" stroke-width="1.15"/>
<path d="M405.5 181.7h1.2M523.1 181.7h-1.2M405.5 220.2h1.2M523.1 220.2h-1.2M405.5 259.9h1.2M523.1 259.9h-1.2" stroke="#555" stroke-width="0.9" fill="none"/>
<path d="M464.1 161.6V212.2M464.1 229.2V278.9" stroke="#0a0aff" stroke-width="3.3" stroke-linecap="round" fill="none"/>
<circle cx="464.1" cy="220.7" r="1.55" fill="#0a0aff"/>
<circle cx="455.3" cy="220.7" r="1.3" fill="#0a0aff"/>
<circle cx="457.9" cy="220.7" r="1.3" fill="#0a0aff"/>
<circle cx="470.2" cy="220.7" r="1.3" fill="#0a0aff"/>
<circle cx="472.8" cy="220.7" r="1.3" fill="#0a0aff"/>
<circle cx="464.1" cy="212.6" r="1.9" fill="#0a0aff"/>
<circle cx="464.1" cy="228.7" r="1.9" fill="#0a0aff"/>
<text x="390.3" y="196.2" font-size="17.3" text-anchor="middle" fill="#000" stroke="#000">20</text>
<text x="390.4" y="227.2" font-size="17.3" text-anchor="middle" fill="#000" stroke="#000">0</text>
<text x="390.8" y="258.8" font-size="17.3" text-anchor="middle" fill="#000" stroke="#000">-20</text>
<text transform="translate(376 218.4) rotate(-90)" font-size="17.6" text-anchor="middle" fill="#000" stroke="#000">Im &#955;</text>
<text x="407.6" y="295.8" font-size="17.3" text-anchor="middle" fill="#000" stroke="#000">-0.2</text>
<text x="462.6" y="295.9" font-size="17.3" text-anchor="middle" fill="#000" stroke="#000">0</text>
<text x="519.7" y="295.8" font-size="17.3" text-anchor="middle" fill="#000" stroke="#000">0.2</text>
<text x="464" y="307.5" font-size="17.2" text-anchor="middle" fill="#000" stroke="#000">Re &#955;</text>
<text x="408" y="180" font-size="20.3" text-anchor="start" fill="#000" stroke="#000">(f)</text>
</g>
</svg>
</body></html>
